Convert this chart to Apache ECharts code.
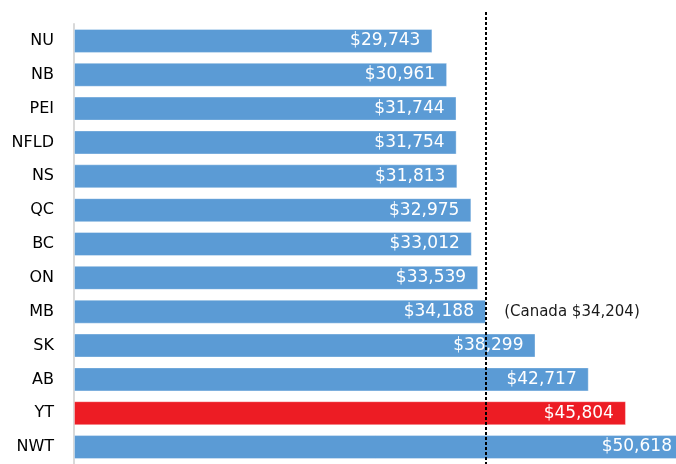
<!DOCTYPE html>
<html>
<head>
<meta charset="utf-8">
<script src="https://cdn.jsdelivr.net/npm/echarts@6/dist/echarts.min.js"></script>
<style>
  html, body { margin: 0; padding: 0; background: #fff; }
  #chart { width: 676px; height: 464px; }
</style>
</head>
<body>
<div id="chart"></div>
<script>
// Median income by province / territory
const provinces = ['NU', 'NB', 'PEI', 'NFLD', 'NS', 'QC', 'BC', 'ON', 'MB', 'SK', 'AB', 'YT', 'NWT'];
const incomes = [29743, 30961, 31744, 31754, 31813, 32975, 33012, 33539, 34188, 38299, 42717, 45804, 50618];
const highlighted = 'YT';
const canadaValue = 34204;
const canadaLabel = 'Canada';

const BLUE = '#5B9BD5';
const RED = '#ED1C24';
const FONT = 'DejaVu Sans';

const money = v => '$' + v.toLocaleString('en-US');

const chart = echarts.init(document.getElementById('chart'), null, { renderer: 'canvas' });

chart.setOption({
  animation: false,
  backgroundColor: '#ffffff',
  grid: {
    left: 74, top: 24, width: 723, height: 440,
    containLabel: false,
    outerBoundsMode: 'none'
  },
  xAxis: {
    type: 'value',
    min: 0,
    max: 60000,
    show: false
  },
  yAxis: {
    type: 'category',
    data: provinces,
    inverse: true,
    axisTick: { show: false },
    axisLine: { show: true, lineStyle: { color: '#d9d9d9', width: 2 } },
    axisLabel: {
      margin: 20,
      color: '#000000',
      fontFamily: FONT,
      fontSize: 16
    },
    splitLine: { show: false }
  },
  series: [{
    type: 'bar',
    clip: false,
    barWidth: 24,
    data: incomes.map((v, i) => ({
      value: v,
      itemStyle: { color: provinces[i] === highlighted ? RED : BLUE }
    })),
    itemStyle: { borderColor: 'rgba(255,255,255,0.35)', borderWidth: 1 },
    label: {
      show: true,
      position: 'insideRight',
      distance: 12,
      color: '#ffffff',
      fontFamily: FONT,
      fontSize: 17,
      formatter: p => money(p.value)
    },
    markLine: {
      silent: true,
      symbol: ['none', 'none'],
      label: { show: false },
      lineStyle: { color: '#000000', width: 2, type: [3, 2] },
      data: [[
        { xAxis: canadaValue, y: 12 },
        { xAxis: canadaValue, y: 464 }
      ]]
    },
    markPoint: {
      silent: true,
      symbol: 'circle',
      symbolSize: 0,
      data: [{ coord: [canadaValue, 'MB'], value: canadaValue }],
      label: {
        show: true,
        position: 'right',
        distance: 18,
        color: '#1a1a1a',
        fontFamily: FONT,
        fontSize: 15,
        formatter: p => '(' + canadaLabel + ' ' + money(p.value) + ')'
      }
    }
  }]
});
</script>
</body>
</html>
